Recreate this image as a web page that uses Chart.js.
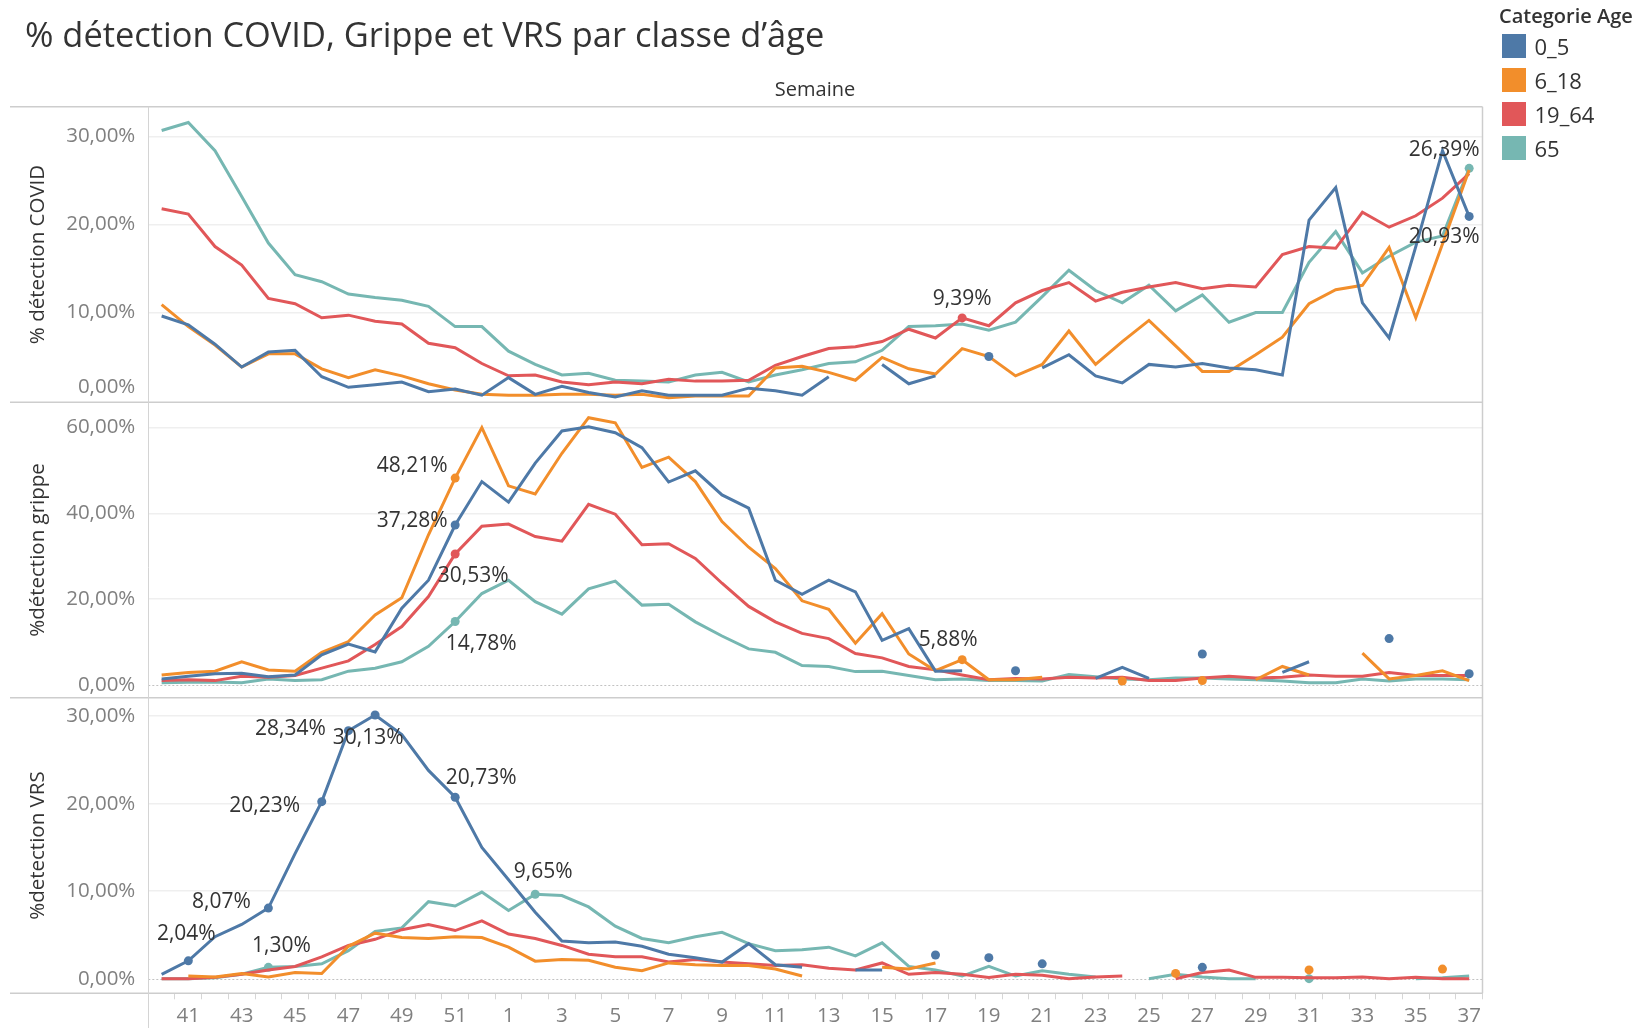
<!DOCTYPE html>
<html lang="fr">
<head>
<meta charset="utf-8">
<title>% détection COVID, Grippe et VRS par classe d’âge</title>
<script src="https://cdn.jsdelivr.net/npm/chart.js@4.4.1/dist/chart.umd.min.js"></script>
<style>
  body { margin: 0; background: #fff; font-family: 'Open Sans', sans-serif; }
  #page { position: relative; width: 1643px; height: 1028px; overflow: hidden; }
  #graphe { position: absolute; left: 0; top: 0; }
  #titre { position: absolute; left: 25px; top: 13px; font-size: 34.4px; line-height: 42px; color: #333; white-space: nowrap; }
  #semaine { position: absolute; left: 715px; width: 200px; top: 76px; text-align: center; font-size: 20px; line-height: 26px; color: #333; }
  #legende { position: absolute; left: 1499px; top: 2px; color: #333; }
  #legende .titre { font-size: 20px; font-weight: 600; line-height: 28px; height: 27px; white-space: nowrap; }
  #legende .item { display: flex; align-items: center; height: 34px; }
  #legende .carre { width: 23.5px; height: 23.5px; margin-left: 3px; margin-right: 9px; }
  #legende .nom { font-size: 22px; }
</style>
</head>
<body>
<div id="page">
  <canvas id="graphe" width="1643" height="1028"></canvas>
  <div id="titre">% détection COVID, Grippe et VRS par classe d’âge</div>
  <div id="semaine">Semaine</div>
  <div id="legende"><div class="titre">Categorie Age</div></div>
</div>
<script>
// semaines épidémiologiques (40 -> 52 puis 1 -> 37)
const semaines = ['40', '41', '42', '43', '44', '45', '46', '47', '48', '49', '50', '51', '52',
  '1', '2', '3', '4', '5', '6', '7', '8', '9', '10', '11', '12', '13', '14', '15', '16', '17', '18',
  '19', '20', '21', '22', '23', '24', '25', '26', '27', '28', '29', '30', '31', '32', '33', '34',
  '35', '36', '37'];
const categories = ['0_5', '6_18', '19_64', '65'];

// % détection COVID
const covid0_5 = [9.6, 8.6, 6.4, 3.8, 5.5, 5.7, 2.7, 1.5, 1.8, 2.1, 1.0, 1.3, 0.6, 2.6, 0.7, 1.6, 0.9,
  0.4, 1.1, 0.6, 0.6, 0.6, 1.4, 1.1, 0.6, 2.7, null, 4.1, 1.9, 2.8, null, 5.0, null, 3.7, 5.2, 2.8,
  2.0, 4.1, 3.8, 4.2, 3.7, 3.5, 2.9, 20.5, 24.2, 11.1, 7.1, 17.5, 28.4, 20.93];
const covid6_18 = [10.9, 8.4, 6.3, 3.8, 5.3, 5.3, 3.6, 2.6, 3.5, 2.8, 1.9, 1.2, 0.7, 0.6, 0.6, 0.7, 0.7,
  0.6, 0.7, 0.3, 0.5, 0.5, 0.5, 3.7, 3.9, 3.2, 2.3, 4.9, 3.6, 3.0, 5.9, 5.0, 2.8, 4.1, 7.9, 4.1, 6.7,
  9.1, 6.2, 3.3, 3.3, 5.2, 7.2, 11.0, 12.6, 13.1, 17.4, 9.4, 17.8, 26.2];
const covid19_64 = [21.8, 21.2, 17.5, 15.4, 11.6, 11.0, 9.4, 9.7, 9.0, 8.7, 6.5, 6.0, 4.2, 2.8, 2.9, 2.1,
  1.8, 2.1, 1.9, 2.4, 2.2, 2.2, 2.3, 4.0, 5.0, 5.9, 6.1, 6.7, 8.1, 7.1, 9.39, 8.5, 11.1, 12.5, 13.4,
  11.3, 12.3, 12.9, 13.4, 12.7, 13.1, 12.9, 16.6, 17.5, 17.3, 21.4, 19.7, 21.0, 23.0, 25.8];
const covid65 = [30.7, 31.6, 28.4, 23.2, 17.9, 14.3, 13.5, 12.1, 11.7, 11.4, 10.7, 8.4, 8.4, 5.6, 4.1, 2.9,
  3.1, 2.3, 2.2, 2.1, 2.9, 3.2, 2.1, 2.9, 3.5, 4.2, 4.4, 5.7, 8.4, 8.5, 8.7, 8.0, 8.9, 11.8, 14.8, 12.5,
  11.1, 13.1, 10.2, 12.0, 8.9, 10.0, 10.0, 15.7, 19.2, 14.5, 16.4, 18.0, 18.7, 26.39];

// % détection grippe
const grippe0_5 = [1.4, 2.0, 2.6, 2.7, 1.9, 2.3, 7.0, 9.5, 7.7, 17.9, 24.4, 37.28, 47.4, 42.6, 51.7, 59.2,
  60.2, 58.8, 55.3, 47.3, 49.9, 44.3, 41.2, 24.4, 21.1, 24.4, 21.7, 10.4, 13.1, 3.2, 3.3, null, 3.3, null,
  null, 1.5, 4.1, 1.5, null, 7.2, null, null, 2.9, 5.4, null, null, 10.8, null, null, 2.6];
const grippe6_18 = [2.3, 2.9, 3.2, 5.4, 3.5, 3.2, 7.6, 10.1, 16.3, 20.3, 35.0, 48.21, 60.0, 46.4, 44.5, 54.0,
  62.3, 61.1, 50.7, 53.1, 47.4, 38.1, 32.1, 27.1, 19.6, 17.6, 9.7, 16.6, 7.2, 3.3, 5.88, 1.2, 1.2, 1.8,
  null, null, 0.9, null, null, 1.0, null, 1.2, 4.3, 2.3, null, 7.4, 1.4, 2.2, 3.3, 1.0];
const grippe19_64 = [1.0, 1.2, 1.0, 2.0, 1.8, 2.2, 3.9, 5.6, 9.4, 13.6, 20.6, 30.53, 37.0, 37.5, 34.6, 33.5,
  42.1, 39.8, 32.7, 32.9, 29.5, 23.7, 18.3, 14.7, 12.0, 10.8, 7.3, 6.3, 4.3, 3.5, 2.3, 1.2, 1.5, 1.4, 1.8,
  1.6, 1.8, 1.0, 1.0, 1.6, 2.0, 1.6, 1.8, 2.3, 2.0, 2.0, 2.9, 2.2, 2.2, 2.2];
const grippe65 = [0.5, 0.6, 0.7, 0.5, 1.4, 1.0, 1.2, 3.2, 3.9, 5.4, 9.0, 14.78, 21.3, 24.4, 19.4, 16.5, 22.4,
  24.2, 18.6, 18.8, 14.7, 11.4, 8.4, 7.6, 4.5, 4.3, 3.1, 3.2, 2.2, 1.2, 1.4, 1.0, 1.0, 0.9, 2.4, 1.9, 1.4,
  1.2, 1.6, 1.6, 1.4, 1.2, 0.9, 0.5, 0.5, 1.4, 0.9, 1.4, 1.4, 1.2];

// % détection VRS
const vrs0_5 = [0.5, 2.04, 4.8, 6.2, 8.07, 14.3, 20.23, 28.34, 30.13, 27.9, 23.8, 20.73, 15.0, 11.3, 7.6, 4.3,
  4.1, 4.2, 3.7, 2.8, 2.4, 1.9, 4.0, 1.6, 1.3, null, 1.0, 1.0, null, 2.7, null, 2.4, null, 1.7, null, null,
  null, null, null, 1.3, null, null, null, null, null, null, null, null, null, null];
const vrs6_18 = [null, 0.3, 0.2, 0.6, 0.2, 0.7, 0.6, 3.7, 5.2, 4.7, 4.6, 4.8, 4.7, 3.6, 2.0, 2.2, 2.1, 1.3,
  0.9, 1.8, 1.6, 1.5, 1.5, 1.1, 0.3, null, null, 1.3, 1.1, 1.8, null, null, null, null, null, null, null,
  null, 0.6, null, null, null, null, 1.0, null, null, null, null, 1.1, null];
const vrs19_64 = [0.0, 0.0, 0.15, 0.5, 1.0, 1.4, 2.5, 3.8, 4.5, 5.6, 6.2, 5.5, 6.6, 5.1, 4.6, 3.8, 2.8, 2.5,
  2.5, 1.9, 2.2, 1.9, 1.7, 1.5, 1.6, 1.2, 1.0, 1.8, 0.5, 0.7, 0.5, 0.15, 0.5, 0.4, 0.0, 0.2, 0.3, null,
  0.0, 0.7, 1.0, 0.15, 0.15, 0.1, 0.1, 0.2, 0.0, 0.15, 0.0, 0.0];
const vrs65 = [0.0, 0.0, 0.1, 0.5, 1.30, 1.4, 1.7, 3.2, 5.4, 5.8, 8.8, 8.3, 9.9, 7.8, 9.65, 9.5, 8.2, 6.0,
  4.6, 4.1, 4.8, 5.3, 4.0, 3.2, 3.3, 3.6, 2.6, 4.1, 1.4, 1.0, 0.3, 1.4, 0.3, 0.9, 0.5, 0.2, null, 0.0,
  0.5, 0.2, 0.0, 0.0, null, 0.0, null, null, null, 0.0, 0.1, 0.3];

// points étiquetés : [classe d'âge, indice de semaine]
const etiquettesCovid = [[2, 30], [3, 49], [0, 49]];
const etiquettesGrippe = [[1, 11], [0, 11], [2, 11], [3, 11], [1, 30]];
const etiquettesVrs = [[0, 1], [0, 4], [3, 4], [0, 6], [0, 7], [0, 8], [0, 11], [3, 14]];

// décalage du texte par rapport au point (px)
const decalagesCovid = [[0, -19], [-25, -18], [-25, 21]];
const decalagesGrippe = [[-43, -12], [-43, -4], [18, 22], [26, 23], [-14, -20]];
const decalagesVrs = [[-2, -27], [-47, -6], [13, -21], [-57, 4], [-58, -2], [-7, 23], [26, -19], [8, -22]];

const couleurs = ['#4e79a7', '#f28e2b', '#e15759', '#76b7b2'];

const panneaux = [
  { id: 'yCovid', titre: '% détection COVID', series: [covid0_5, covid6_18, covid19_64, covid65],
    min: -0.2, max: 33.4, graduations: [0, 10, 20, 30], etiquettes: etiquettesCovid, decalages: decalagesCovid },
  { id: 'yGrippe', titre: '%détection grippe', series: [grippe0_5, grippe6_18, grippe19_64, grippe65],
    min: -3.0, max: 65.9, graduations: [0, 20, 40, 60], etiquettes: etiquettesGrippe, decalages: decalagesGrippe },
  { id: 'yVrs', titre: '%detection VRS', series: [vrs0_5, vrs6_18, vrs19_64, vrs65],
    min: -1.67, max: 32.1, graduations: [0, 10, 20, 30], etiquettes: etiquettesVrs, decalages: decalagesVrs }
];

// légende
const legende = document.getElementById('legende');
categories.forEach(function (c, i) {
  const item = document.createElement('div');
  item.className = 'item';
  item.innerHTML = '<div class="carre" style="background:' + couleurs[i] + '"></div><div class="nom">' + c + '</div>';
  legende.appendChild(item);
});

function formatPct(v) {
  return v.toFixed(2).replace('.', ',') + '%';
}

function rayonPoint(ctx) {
  const d = ctx.dataset.data;
  const i = ctx.dataIndex;
  if (d[i] == null) return 0;
  const isole = (i === 0 || d[i - 1] == null) && (i === d.length - 1 || d[i + 1] == null);
  return (isole || ctx.dataset.marques.includes(i)) ? 4.5 : 0;
}

const datasets = [];
panneaux.forEach(function (p) {
  p.series.forEach(function (serie, c) {
    datasets.push({
      label: categories[c],
      data: serie,
      yAxisID: p.id,
      borderColor: couleurs[c],
      backgroundColor: couleurs[c],
      borderWidth: 3,
      pointRadius: rayonPoint,
      pointBorderWidth: 0,
      pointHoverRadius: 5,
      tension: 0,
      spanGaps: false,
      marques: p.etiquettes.filter(e => e[0] === c).map(e => e[1])
    });
  });
});

const scales = {
  x: {
    type: 'category',
    labels: semaines,
    offset: true,
    grid: { offset: true, drawOnChartArea: false, tickLength: 6, color: '#d6d6d6' },
    border: { display: false },
    ticks: {
      autoSkip: false, maxRotation: 0, padding: 5, color: '#808080',
      font: { size: 20.5 },
      callback: (v, i) => (i % 2 === 1 ? semaines[i] : '')
    },
    afterFit: s => { s.height = 34.7; s.paddingLeft = 0; s.paddingRight = 0; }
  }
};
// les axes empilés se placent de bas en haut : on les déclare dans l'ordre inverse
panneaux.slice().reverse().forEach(function (p) {
  scales[p.id] = {
    type: 'linear',
    position: 'left',
    stack: 'panneaux',
    stackWeight: 1,
    min: p.min,
    max: p.max,
    afterBuildTicks: s => { s.ticks = p.graduations.map(v => ({ value: v })); },
    grid: {
      drawTicks: false,
      lineWidth: 1.5,
      color: ctx => (ctx.tick && ctx.tick.value === 0 ? 'rgba(0,0,0,0)' : '#efefef')
    },
    border: { display: false },
    ticks: {
      autoSkip: false,
      padding: 13,
      color: '#808080',
      font: { size: 20.5, lineHeight: 1.3 },
      callback: v => (p.id === 'yCovid' && v === 0 ? [formatPct(v), ''] : formatPct(v))
    },
    title: { display: true, text: p.titre, color: '#333', font: { size: 20.5, lineHeight: 1.2 }, padding: { top: 16, bottom: 0 } },
    afterFit: s => { s.width = 138.3; s.paddingTop = 0; s.paddingBottom = 0; }
  };
});

function trait(ctx, x1, y1, x2, y2) {
  ctx.beginPath();
  ctx.moveTo(x1, y1);
  ctx.lineTo(x2, y2);
  ctx.stroke();
}

const cadre = {
  id: 'cadre',
  beforeDatasetsDraw(chart) {
    const { ctx, chartArea, scales } = chart;
    ctx.save();
    ctx.strokeStyle = '#c2c2c2';
    ctx.lineWidth = 1;
    ctx.setLineDash([2, 2]);
    ['yGrippe', 'yVrs'].forEach(id => {
      const y = Math.round(scales[id].getPixelForValue(0)) + 0.5;
      trait(ctx, chartArea.left, y, chartArea.right, y);
    });
    ctx.restore();
  },
  afterDatasetsDraw(chart) {
    const { ctx, scales } = chart;
    ctx.save();
    ctx.fillStyle = '#333';
    ctx.font = "21px 'Open Sans', sans-serif";
    ctx.textAlign = 'center';
    ctx.textBaseline = 'middle';
    panneaux.forEach(function (p) {
      p.etiquettes.forEach(function (e, k) {
        const v = p.series[e[0]][e[1]];
        const x = scales.x.getPixelForValue(e[1]) + p.decalages[k][0];
        const y = scales[p.id].getPixelForValue(v) + p.decalages[k][1];
        ctx.fillText(formatPct(v), x, y);
      });
    });
    ctx.restore();
  },
  afterDraw(chart) {
    const { ctx, chartArea, scales } = chart;
    ctx.save();
    ctx.strokeStyle = '#cdcdcd';
    ctx.lineWidth = 1.5;
    const lignes = [scales.yCovid.top, scales.yCovid.bottom, scales.yGrippe.bottom, scales.yVrs.bottom];
    lignes.forEach(y => trait(ctx, 10, y, chartArea.right, y));
    trait(ctx, chartArea.right, chartArea.top, chartArea.right, chartArea.bottom);
    ctx.lineWidth = 1;
    ctx.strokeStyle = '#d4d4d4';
    trait(ctx, Math.round(chartArea.left) + 0.5, chartArea.top, Math.round(chartArea.left) + 0.5, chart.height);
    ctx.restore();
  }
};

Chart.defaults.font.family = "'Open Sans', sans-serif";

new Chart(document.getElementById('graphe'), {
  type: 'line',
  data: { labels: semaines, datasets: datasets },
  options: {
    responsive: false,
    animation: false,
    layout: { padding: { left: 10, top: 106.7, right: 160.5, bottom: 0 } },
    plugins: { legend: { display: false }, tooltip: { enabled: true } },
    scales: scales
  },
  plugins: [cadre]
});
</script>
</body>
</html>
